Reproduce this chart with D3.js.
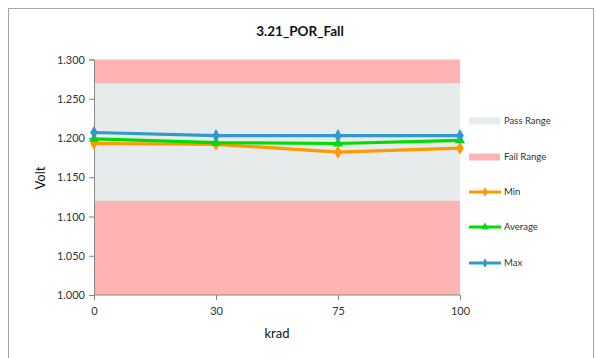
<!DOCTYPE html>
<html><head><meta charset="utf-8">
<script src="https://cdn.jsdelivr.net/npm/d3@7"></script>
<style>body{margin:0;background:#fff}svg{display:block}text{font-family:Lato,"Open Sans",sans-serif}</style>
</head><body><svg id="c" width="596" height="358"></svg>
<script>
const categories = ["0","30","75","100"];
const minVals = [1.193, 1.192, 1.182, 1.187];
const avgVals = [1.199, 1.194, 1.193, 1.197];
const maxVals = [1.207, 1.203, 1.203, 1.203];
const passRange = [1.12, 1.27];
const yDomain = [1.0, 1.3];
const yTicks = [1.000,1.050,1.100,1.150,1.200,1.250,1.300];
const title = "3.21_POR_Fall";

const svg = d3.select("#c");
svg.append("rect").attr("x",8.5).attr("y",8.5).attr("width",585).attr("height",360)
  .attr("fill","#fff").attr("stroke","#a6a6a6").attr("stroke-width",1);

const x = d3.scalePoint().domain(categories).range([94,460]);
const y = d3.scaleLinear().domain(yDomain).range([295,59.5]);

// fail range (full) then pass range
svg.append("rect").attr("x",94).attr("width",366).attr("y",y(yDomain[1])).attr("height",y(yDomain[0])-y(yDomain[1])).attr("fill","#ffb3b3");
svg.append("rect").attr("x",94).attr("width",366).attr("y",y(passRange[1])).attr("height",y(passRange[0])-y(passRange[1])).attr("fill","#e6ebeb");

// axes
const ya = svg.append("g").attr("transform","translate(94,0)").call(d3.axisLeft(y).tickValues(yTicks).tickFormat(d3.format(".3f")).tickSize(5).tickPadding(4));
const xa = svg.append("g").attr("transform","translate(0,295)").call(d3.axisBottom(x).tickSize(5).tickPadding(5));
[ya,xa].forEach(g=>{g.selectAll("path,line").attr("stroke","#868686");g.selectAll("text").attr("fill","#333").style("font-size","11px");});
xa.select(".domain").attr("d","M94,0H460");
xa.selectAll("text").attr("dy","0.9em");

svg.append("text").attr("x",300).attr("y",36).attr("text-anchor","middle").style("font-size","13.5px").style("font-weight","bold").attr("fill","#111").text(title);
svg.append("text").attr("transform","translate(45,178) rotate(-90)").attr("text-anchor","middle").style("font-size","13px").attr("fill","#111").text("Volt");
svg.append("text").attr("x",277).attr("y",338).attr("text-anchor","middle").style("font-size","13px").attr("fill","#111").text("krad");

const series = [
  {name:"Min", vals:minVals, color:"#ff9900", marker:"diamond"},
  {name:"Average", vals:avgVals, color:"#00dd00", marker:"triangle"},
  {name:"Max", vals:maxVals, color:"#3399cc", marker:"diamond"}
];
const line = d3.line().x((d,i)=>x(categories[i])).y(d=>y(d));
const sym = {diamond:d3.symbolDiamond, triangle:d3.symbolTriangle};
series.forEach(s=>{
  svg.append("path").datum(s.vals).attr("d",line).attr("fill","none").attr("stroke",s.color).attr("stroke-width",3.2);
  svg.selectAll(null).data(s.vals).enter().append("path")
    .attr("transform",(d,i)=>`translate(${x(categories[i])},${y(d)})`)
    .attr("d",d3.symbol().type(sym[s.marker]).size(s.marker==="triangle"?45:50)).attr("fill",s.color);
});

// legend
const lg = svg.append("g");
const legItems = [
  {name:"Pass Range", type:"rect", color:"#e6ebeb", y:121},
  {name:"Fail Range", type:"rect", color:"#ffb3b3", y:157},
  {name:"Min", type:"line", color:"#ff9900", y:192, marker:"diamond"},
  {name:"Average", type:"line", color:"#00dd00", y:227, marker:"triangle"},
  {name:"Max", type:"line", color:"#3399cc", y:263, marker:"diamond"}
];
legItems.forEach(it=>{
  if(it.type==="rect"){
    lg.append("rect").attr("x",469).attr("y",it.y-3.5).attr("width",31).attr("height",7).attr("fill",it.color);
  } else {
    lg.append("line").attr("x1",469).attr("x2",501).attr("y1",it.y).attr("y2",it.y).attr("stroke",it.color).attr("stroke-width",3);
    lg.append("path").attr("transform",`translate(485,${it.y})`).attr("d",d3.symbol().type(sym[it.marker]).size(25)).attr("fill",it.color);
  }
  lg.append("text").attr("x",504).attr("y",it.y).attr("dy","0.35em").style("font-size","9.5px").attr("fill","#333").text(it.name);
});
</script></body></html>
